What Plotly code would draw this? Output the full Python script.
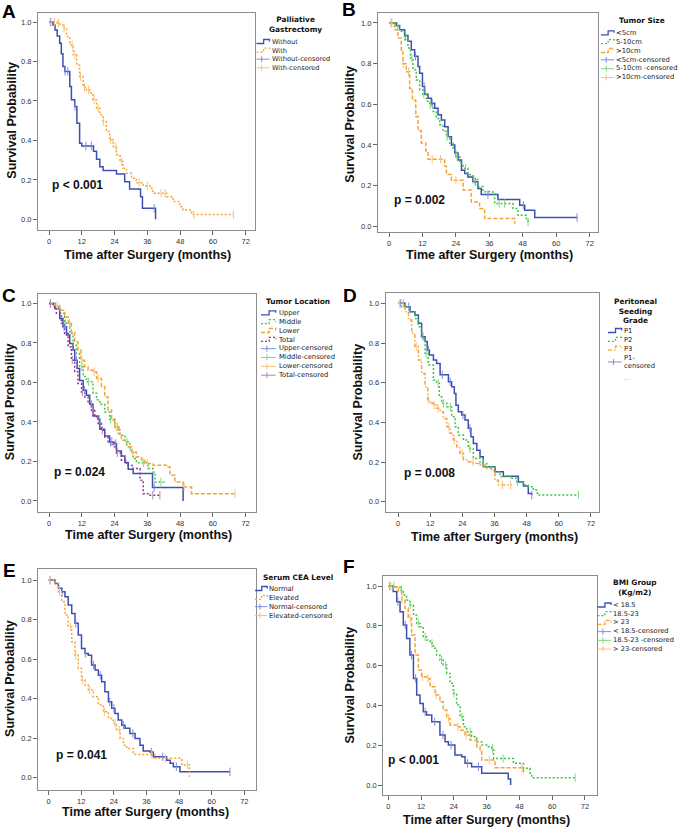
import numpy as np
import plotly.graph_objects as go

# ---------------- data ----------------
time_ticks = [0, 12, 24, 36, 48, 60, 72]
surv_ticks = [0.0, 0.2, 0.4, 0.6, 0.8, 1.0]

# Panel A: Palliative Gastrectomy
A_without_t = [0, 1.5, 2.2, 3, 3.9, 4.5, 5.1, 5.8, 7.6, 8.2, 9.4, 10.2, 11.2, 12, 16.3, 17.4, 18.6, 19.8, 24.7, 27.7, 29.5, 33.5, 34.2, 39]
A_without_s = [1.0, 0.985, 0.96, 0.93, 0.893, 0.84, 0.775, 0.75, 0.673, 0.606, 0.572, 0.487, 0.386, 0.372, 0.345, 0.305, 0.267, 0.247, 0.23, 0.19, 0.154, 0.115, 0.056, 0.0]
A_without_c = [0.5, 5.9, 6.9, 9.5, 13.5, 15.5, 38.5]
A_with_t = [0, 3, 3.9, 5.1, 6.4, 7.6, 8.9, 10.1, 11.2, 12.5, 13.7, 14.9, 16.1, 17.4, 18.6, 19.8, 21, 22.2, 23.5, 24.7, 26, 27.1, 28.3, 30.2, 32, 34.5, 37.5, 38, 43, 45.4, 47.9, 49, 52.2, 67.5]
A_with_s = [1.0, 0.995, 0.99, 0.97, 0.927, 0.885, 0.834, 0.783, 0.724, 0.67, 0.656, 0.64, 0.606, 0.563, 0.53, 0.496, 0.445, 0.403, 0.369, 0.327, 0.293, 0.259, 0.234, 0.208, 0.186, 0.169, 0.157, 0.132, 0.115, 0.09, 0.064, 0.047, 0.025, 0.025]
A_with_c = [0.8, 2.0, 3.5, 5.5, 8.5, 9.5, 11.5, 13.0, 14.5, 16.5, 18.0, 20.0, 22.5, 24.5, 26.5, 33.0, 36.0, 41.0, 42.5, 53.0, 67.5]

# Panel B: Tumor Size
B_lt5_t = [0, 2.6, 3.8, 5.6, 6.8, 8, 9.2, 10.4, 11, 12, 12.8, 14, 15.2, 16.4, 17.6, 18.8, 20, 21.2, 22.4, 23.6, 24.8, 26, 27.2, 28.3, 30.1, 31.9, 33.1, 39.1, 46.9, 48.7, 52.3, 67.5]
B_lt5_s = [1.0, 0.987, 0.967, 0.938, 0.91, 0.868, 0.836, 0.786, 0.753, 0.688, 0.65, 0.63, 0.605, 0.58, 0.548, 0.523, 0.49, 0.44, 0.40, 0.36, 0.326, 0.276, 0.26, 0.243, 0.219, 0.186, 0.156, 0.132, 0.104, 0.079, 0.043, 0.043]
B_lt5_c = [0.8, 5.9, 9.5, 12.6, 15.5, 23.9, 31.0, 35.5, 48.2, 67.5]
B_mid_t = [0, 2, 3.8, 5.6, 6.8, 7.7, 8.6, 9.8, 11, 12.2, 13.4, 14.6, 15.8, 17, 18.2, 19.4, 20.6, 21.8, 23, 24.2, 25.4, 26.6, 28.3, 30.1, 31.9, 33.7, 37.3, 37.9, 44.5, 46.3, 49.3, 49.9]
B_mid_s = [1.0, 0.984, 0.959, 0.918, 0.877, 0.827, 0.77, 0.72, 0.67, 0.648, 0.615, 0.597, 0.565, 0.53, 0.5, 0.467, 0.44, 0.408, 0.375, 0.342, 0.31, 0.286, 0.253, 0.23, 0.196, 0.17, 0.16, 0.112, 0.087, 0.054, 0.038, 0.021]
B_mid_c = [1.0, 3.0, 8.2, 12.5, 14.8, 20.8, 24.4, 27.5, 30.5, 39.5, 41.5, 49.9]
B_gt10_t = [0, 2, 3.2, 4.4, 5, 6.2, 7.4, 8.4, 9.6, 10.4, 11.6, 13.2, 14, 20, 20.6, 22.4, 26.6, 29.5, 32.5, 34.3, 45.1]
B_gt10_s = [1.0, 0.967, 0.926, 0.86, 0.8, 0.76, 0.678, 0.62, 0.54, 0.47, 0.41, 0.37, 0.33, 0.296, 0.255, 0.226, 0.178, 0.12, 0.087, 0.038, 0.013]
B_gt10_c = [0.8, 5.1, 7.0, 15.5, 18.5, 24.0]

# Panel C: Tumor Location
C_up_t = [0, 2.1, 3.9, 5.1, 6.4, 7.6, 8.8, 9.4, 10.3, 11.2, 12.5, 13.7, 14.9, 16.1, 18, 18.6, 20.4, 22.2, 24.1, 24.7, 26.5, 27.8, 29, 30.8, 37.9, 49.1]
C_up_s = [1.0, 0.975, 0.924, 0.882, 0.84, 0.797, 0.764, 0.713, 0.671, 0.61, 0.56, 0.535, 0.49, 0.43, 0.414, 0.363, 0.329, 0.297, 0.29, 0.253, 0.228, 0.195, 0.16, 0.139, 0.068, 0.0]
C_up_c = [0.5, 5.5, 10.0, 13.0, 15.5, 18.3, 22.5, 24.4, 38.5]
C_mid_t = [0, 2.1, 3.9, 5.7, 7.6, 8.8, 10, 11.2, 12.5, 13.7, 16.1, 17.4, 18.6, 20.4, 22.2, 24.1, 25.9, 27.8, 29.6, 30.8, 32, 36.3, 38.1, 38.8, 42.4]
C_mid_s = [1.0, 0.983, 0.95, 0.9, 0.848, 0.789, 0.747, 0.68, 0.63, 0.603, 0.546, 0.512, 0.49, 0.45, 0.414, 0.375, 0.333, 0.3, 0.257, 0.215, 0.193, 0.164, 0.147, 0.096, 0.096]
C_mid_c = [6.0, 12.0, 14.5, 22.5, 25.0, 28.5, 34.5, 41.0]
C_low_t = [0, 2.1, 3.9, 5.7, 7, 8.2, 9.4, 10.6, 11.7, 13, 14.3, 16.1, 17.4, 19.2, 20.4, 21.6, 22.9, 24.1, 25.3, 26.5, 28.4, 30.2, 32, 33.9, 35.1, 38.1, 43, 44.3, 46.1, 49.1, 52.2, 68.1]
C_low_s = [1.0, 0.99, 0.966, 0.932, 0.9, 0.856, 0.806, 0.764, 0.713, 0.68, 0.662, 0.654, 0.62, 0.578, 0.527, 0.46, 0.409, 0.375, 0.341, 0.307, 0.274, 0.248, 0.223, 0.206, 0.19, 0.181, 0.172, 0.13, 0.096, 0.07, 0.037, 0.037]
C_low_c = [3.0, 7.5, 12.0, 16.5, 18.0, 24.5, 30.5, 36.0, 49.5, 68.1]
C_tot_t = [0, 1.5, 2.7, 4.5, 5.7, 7, 8.2, 9.4, 10.6, 11.9, 13.1, 14.3, 15.5, 16.7, 18, 19.2, 20.4, 21.6, 23.5, 24.7, 26.5, 28.4, 30.8, 33.3, 34.5, 36.3, 40.6]
C_tot_s = [1.0, 0.983, 0.95, 0.9, 0.848, 0.78, 0.713, 0.654, 0.595, 0.552, 0.527, 0.493, 0.459, 0.426, 0.392, 0.358, 0.324, 0.3, 0.274, 0.243, 0.206, 0.18, 0.164, 0.105, 0.037, 0.029, 0.029]
C_tot_c = [0.5, 8.5, 12.2, 16.0, 19.5, 23.0, 25.0, 38.0, 40.6]

# Panel D: Peritoneal Seeding Grade
D_p1_t = [0, 2.6, 4.5, 6.3, 7.6, 8.8, 10.1, 10.9, 11.7, 13.2, 14.4, 15.7, 18.8, 20, 21, 21.6, 22.5, 23.8, 25, 26.2, 27.2, 28.1, 29.4, 30.6, 31.8, 36.2, 39.3, 44.9, 46.8, 48.6, 49.9]
D_p1_s = [1.0, 0.983, 0.958, 0.941, 0.9, 0.832, 0.807, 0.765, 0.74, 0.714, 0.697, 0.64, 0.605, 0.58, 0.546, 0.487, 0.454, 0.437, 0.412, 0.37, 0.328, 0.294, 0.26, 0.227, 0.176, 0.151, 0.129, 0.1, 0.079, 0.042, 0.034]
D_p1_c = [1.0, 4.0, 9.3, 11.3, 16.5, 19.5, 24.2, 26.8, 49.9]
D_p2_t = [0, 2.6, 4.5, 6.3, 7.6, 8.8, 10.1, 11.3, 13.2, 14.4, 15.4, 16.3, 18.2, 20, 21.3, 22.5, 24.4, 26.2, 28.1, 30.6, 33.1, 36.2, 38.1, 42.4, 44.3, 46.8, 48.6, 50.5, 52, 67.3]
D_p2_s = [1.0, 0.983, 0.958, 0.924, 0.882, 0.824, 0.748, 0.689, 0.613, 0.597, 0.529, 0.496, 0.479, 0.429, 0.378, 0.336, 0.311, 0.269, 0.218, 0.193, 0.176, 0.151, 0.126, 0.118, 0.1, 0.084, 0.076, 0.059, 0.034, 0.034]
D_p2_c = [2.0, 10.5, 15.0, 17.0, 19.5, 26.8, 32.0, 44.5, 67.3]
D_p3_t = [0, 1.4, 2.6, 3.9, 5.1, 6.3, 7.6, 8.8, 10.1, 11.1, 11.9, 13.2, 14.4, 15.7, 16.9, 18.2, 19.4, 20.6, 21.9, 23.1, 24.4, 26.2, 28.1, 30.6, 32.5, 34.9, 36.2, 37.4, 42.4]
D_p3_s = [1.0, 0.983, 0.958, 0.916, 0.849, 0.782, 0.714, 0.647, 0.58, 0.513, 0.496, 0.487, 0.471, 0.454, 0.42, 0.378, 0.345, 0.311, 0.277, 0.244, 0.21, 0.202, 0.193, 0.185, 0.168, 0.156, 0.109, 0.084, 0.084]
D_p3_c = [0.5, 7.0, 11.5, 13.5, 15.0, 19.0, 21.0, 24.0, 28.0, 39.0, 42.0]

# Panel E: Serum CEA Level
E_norm_t = [0, 2.3, 3.6, 4.8, 6, 7.2, 8.5, 9.7, 10.9, 12.1, 13.4, 14.6, 15.8, 17.1, 18.3, 19.5, 20.7, 22, 23.2, 24.4, 25.6, 26.9, 28.1, 29.9, 31.8, 33.6, 34.8, 37.3, 38.5, 43.4, 44.7, 45.9, 48.3, 66.7]
E_norm_s = [1.0, 0.983, 0.958, 0.941, 0.916, 0.874, 0.831, 0.781, 0.722, 0.654, 0.629, 0.62, 0.57, 0.545, 0.519, 0.486, 0.435, 0.384, 0.351, 0.325, 0.292, 0.266, 0.25, 0.224, 0.199, 0.165, 0.135, 0.13, 0.106, 0.089, 0.073, 0.056, 0.03, 0.03]
E_norm_c = [0.5, 5.0, 10.0, 13.5, 16.5, 19.0, 22.5, 24.0, 27.5, 31.0, 37.8, 42.0, 47.0, 66.7]
E_elev_t = [0, 2.3, 3.6, 4.8, 6, 7.2, 8.5, 9.7, 10.9, 12.1, 13.4, 14.6, 16.4, 18.3, 20.1, 22, 23.8, 25, 26.3, 27.5, 28.7, 31.2, 39.1, 49, 51.8]
E_elev_s = [1.0, 0.983, 0.941, 0.89, 0.823, 0.764, 0.688, 0.62, 0.553, 0.494, 0.469, 0.444, 0.41, 0.368, 0.334, 0.3, 0.275, 0.241, 0.199, 0.165, 0.148, 0.118, 0.098, 0.064, 0.005]
E_elev_c = [0.5, 4.0, 8.0, 10.0, 12.5, 15.0, 20.5, 24.5, 26.0, 38.0, 43.0, 51.0]

# Panel F: BMI Group
F_lo_t = [0, 1.8, 3.1, 4.3, 5.5, 6.7, 7.9, 9.2, 10.4, 11.6, 12.8, 14, 15.9, 18.9, 20.8, 22, 24.4, 26.9, 28.1, 30.5, 34.2, 43.9, 44.8]
F_lo_s = [1.0, 0.972, 0.921, 0.871, 0.804, 0.737, 0.653, 0.536, 0.452, 0.41, 0.368, 0.352, 0.318, 0.251, 0.218, 0.201, 0.151, 0.142, 0.109, 0.092, 0.059, 0.03, 0.0]
F_lo_c = [0.5, 3.5, 6.2, 8.5, 10.0, 13.5, 17.0, 20.0, 23.0, 29.0, 33.0]
F_mid_t = [0, 2.4, 4.3, 5.5, 6.7, 7.9, 9.2, 10.4, 11.6, 12.8, 14, 15.3, 16.5, 17.7, 18.9, 20.1, 21.4, 22.6, 23.8, 25, 26.3, 27.5, 28.7, 30.5, 32.4, 34.2, 36, 37.9, 38.5, 45.8, 49.5, 51.9, 52.5, 68.4]
F_mid_s = [1.0, 0.995, 0.98, 0.955, 0.93, 0.905, 0.854, 0.812, 0.796, 0.745, 0.729, 0.712, 0.687, 0.653, 0.628, 0.603, 0.561, 0.511, 0.461, 0.402, 0.343, 0.293, 0.268, 0.243, 0.218, 0.201, 0.193, 0.184, 0.134, 0.109, 0.084, 0.059, 0.037, 0.037]
F_mid_c = [0.5, 2.0, 4.8, 8.0, 11.0, 13.5, 16.0, 19.5, 21.0, 24.0, 27.0, 30.0, 38.2, 42.0, 68.4]
F_hi_t = [0, 1.8, 3.7, 4.9, 6.1, 7.3, 8.5, 9.8, 11, 12.2, 14, 15.3, 17.1, 18.9, 20.1, 21.4, 22.6, 25, 26.3, 28.1, 29.9, 32.4, 33.6, 34.2, 39.1, 49.5]
F_hi_s = [1.0, 0.997, 0.972, 0.93, 0.888, 0.838, 0.754, 0.653, 0.578, 0.544, 0.536, 0.494, 0.452, 0.419, 0.377, 0.335, 0.302, 0.293, 0.276, 0.251, 0.226, 0.193, 0.168, 0.126, 0.087, 0.05]
F_hi_c = [1.0, 5.0, 8.0, 12.5, 14.5, 17.5, 22.0, 25.5, 28.5, 37.0, 49.0]

p_values = ["p &lt; 0.001", "p = 0.002", "p = 0.024", "p = 0.008", "p = 0.041", "p &lt; 0.001"]

legend_titles = [["Palliative", "Gastrectomy"], ["Tumor Size"], ["Tumor Location"],
                 ["Peritoneal", "Seeding", "Grade"], ["Serum CEA Level"], ["BMI Group", "(Kg/m2)"]]
legend_labels = [
    ["Without", "With", "Without-censored", "With-censored"],
    ["&lt;5cm", "5-10cm", "&gt;10cm", "&lt;5cm-censored", "5-10cm -censored", "&gt;10cm-censored"],
    ["Upper", "Middle", "Lower", "Total", "Upper-censored", "Middle-censored", "Lower-censored", "Total-censored"],
    ["P1", "P2", "P3", "P1-", "censored"],
    ["Normal", "Elevated", "Normal-censored", "Elevated-censored"],
    ["&lt; 18.5", "18.5-23", "&gt; 23", "&lt; 18.5-censored", "18.5-23 -censored", "&gt; 23-censored"],
]

# ---------------- styling / layout helpers ----------------
W, H = 685, 829
def fx(p): return p / W
def fy(p): return 1 - p / H

BLUE = '#3d4fb5'
ORANGE = '#f6a234'
GREEN = '#3ec43e'
PURPLE = '#8b3a8b'
LIGHT = {BLUE: '#7e8ed8', ORANGE: '#f8c27c', GREEN: '#80d880', PURPLE: '#b683b6'}
SOLID, DOT, DASH, DASHDOT = 'solid', '2px,2px', '4px,2px', '4px,2px,1.5px,2px'
FONT = 'Liberation Sans, Arial, sans-serif'
LFONT = 'DejaVu Sans, Verdana, sans-serif'
TITLE_FS = 7.4
LS = 1.3  # plotly line spacing

panels = [
    dict(letter='A', box=(38, 13, 255, 230), xr=(-4.03, 75.4), yr=(-0.054, 1.046),
         curves=[(A_without_t, A_without_s, A_without_c, BLUE, SOLID),
                 (A_with_t, A_with_s, A_with_c, ORANGE, DOT)],
         letter_pos=(8.5, 11.5), p_pos=(51, 185), xt=(147, 255), yt=12,
         leg=dict(tx=295, ty=19.3, xs=256.5, xt=270.5, y1=42.0, fs=6.6)),
    dict(letter='B', box=(378, 13, 598, 232), xr=(-3.95, 75.0), yr=(-0.028, 1.049),
         curves=[(B_lt5_t, B_lt5_s, B_lt5_c, BLUE, SOLID),
                 (B_mid_t, B_mid_s, B_mid_c, GREEN, DOT),
                 (B_gt10_t, B_gt10_s, B_gt10_c, ORANGE, DASH)],
         letter_pos=(348.5, 9.7), p_pos=(393, 200), xt=(489, 255), yt=350,
         leg=dict(tx=641.7, ty=20.7, xs=601, xt=615, y1=33.3, fs=6.8)),
    dict(letter='C', box=(38, 294, 256, 512), xr=(-4.04, 75.8), yr=(-0.056, 1.048),
         curves=[(C_up_t, C_up_s, C_up_c, BLUE, SOLID),
                 (C_mid_t, C_mid_s, C_mid_c, GREEN, DOT),
                 (C_low_t, C_low_s, C_low_c, ORANGE, DASH),
                 (C_tot_t, C_tot_s, C_tot_c, PURPLE, DOT)],
         letter_pos=(8.5, 295), p_pos=(53, 471.7), xt=(148, 535), yt=10,
         leg=dict(tx=298, ty=301.7, xs=261, xt=276.7, y1=313.3, fs=6.8)),
    dict(letter='D', box=(385.7, 293, 599.3, 511.7), xr=(-4.6, 75.1), yr=(-0.05, 1.052),
         curves=[(D_p1_t, D_p1_s, D_p1_c, BLUE, SOLID),
                 (D_p2_t, D_p2_s, D_p2_c, GREEN, DOT),
                 (D_p3_t, D_p3_s, D_p3_c, ORANGE, DASHDOT)],
         letter_pos=(350, 295), p_pos=(403, 473.3), xt=(494, 536.7), yt=358,
         leg=dict(tx=635, ty=301.7, xs=608, xt=622.7, y1=331.0, fs=6.8)),
    dict(letter='E', box=(38.3, 569, 256, 790), xr=(-3.8, 76.3), yr=(-0.062, 1.056),
         curves=[(E_norm_t, E_norm_s, E_norm_c, BLUE, SOLID),
                 (E_elev_t, E_elev_s, E_elev_c, ORANGE, DOT)],
         letter_pos=(9.2, 570), p_pos=(55, 755), xt=(145.5, 812.3), yt=10,
         leg=dict(tx=297.7, ty=577.3, xs=255, xt=268.3, y1=589.0, fs=6.8)),
    dict(letter='F', box=(383.3, 575.7, 596.7, 795), xr=(-1.83, 76.3), yr=(-0.05, 1.052),
         curves=[(F_lo_t, F_lo_s, F_lo_c, BLUE, SOLID),
                 (F_mid_t, F_mid_s, F_mid_c, GREEN, DOT),
                 (F_hi_t, F_hi_s, F_hi_c, ORANGE, DASH)],
         letter_pos=(349, 566.7), p_pos=(387, 760), xt=(486.7, 819.5), yt=350,
         leg=dict(tx=635, ty=582.8, xs=597.5, xt=612, y1=605.5, fs=6.7)),
]

fig = go.Figure()
annotations, shapes = [], []
layout_axes = {}

def ann(text, x, y, size, family=FONT, color='#111', xanchor='center', **kw):
    d = dict(text=text, x=fx(x), y=fy(y), xref='paper', yref='paper', xanchor=xanchor,
             yanchor='middle', showarrow=False, borderpad=0, font=dict(size=size, family=family, color=color))
    d.update(kw)
    annotations.append(d)

for i, P in enumerate(panels):
    n = '' if i == 0 else str(i + 1)
    xa, ya = 'x' + n, 'y' + n
    l, t, r, b = P['box']
    common = dict(showline=True, mirror=True, linecolor='#8c8c8c', linewidth=1,
                  ticks='outside', ticklen=4, tickwidth=1, tickcolor='#666',
                  tickfont=dict(size=7.5, family=FONT, color='#333'),
                  showgrid=False, zeroline=False, fixedrange=True)
    layout_axes['xaxis' + n] = dict(common, domain=[fx(l), fx(r)], range=list(P['xr']),
                                    tickvals=time_ticks, anchor=ya)
    layout_axes['yaxis' + n] = dict(common, domain=[fy(b), fy(t)], range=list(P['yr']),
                                    tickvals=surv_ticks, tickformat='.1f', anchor=xa)
    for (tt, ss, cc, col, dash) in P['curves']:
        fig.add_trace(go.Scatter(x=tt, y=ss, mode='lines', xaxis=xa, yaxis=ya,
                                 line=dict(shape='hv', color=col, width=1.5, dash=dash),
                                 showlegend=False, hoverinfo='skip'))
    for (tt, ss, cc, col, dash) in P['curves']:
        idx = np.searchsorted(np.array(tt), np.array(cc), side='right') - 1
        cy = [ss[k] for k in idx]
        fig.add_trace(go.Scatter(x=cc, y=cy, mode='markers', xaxis=xa, yaxis=ya,
                                 marker=dict(symbol='line-ns', size=6,
                                             line=dict(width=1, color=LIGHT[col])),
                                 showlegend=False, hoverinfo='skip'))
    ann('<b>%s</b>' % P['letter'], *P['letter_pos'], 19, color='#000')
    ann('<b>%s</b>' % p_values[i], *P['p_pos'], 12, xanchor='left')
    ann('<b>Time after Surgery (months)</b>', *P['xt'], 12.5)
    y0px = t + (b - t) * (P['yr'][1] - 0.5) / (P['yr'][1] - P['yr'][0])
    ann('<b>Survival Probability</b>', P['yt'], y0px, 12.5, textangle=-90)

    # legend (drawn by hand, SPSS style)
    L = P['leg']
    titles = legend_titles[i]
    tstep = TITLE_FS * LS
    tcenter = L['ty'] + (len(titles) - 1) * tstep / 2
    ann('<b>%s</b>' % '<br>'.join(titles), L['tx'], tcenter, TITLE_FS, family=LFONT)
    labels = legend_labels[i]
    step = L['fs'] * LS
    ycen = L['y1'] + (len(labels) - 1) * step / 2
    ann('<br>'.join(labels), L['xt'], ycen, L['fs'], family=LFONT, color='#222', xanchor='left', align='left')
    ncur = len(P['curves'])
    nitems = 2 * ncur if P['letter'] != 'D' else ncur + 1
    x0, x1 = L['xs'], L['xt'] - 1
    for k in range(nitems):
        yy = L['y1'] + k * step
        if k < ncur:
            col, dash = P['curves'][k][3], P['curves'][k][4]
            xm = x0 + (x1 - x0) * 0.55
            path = 'M %f,%f L %f,%f L %f,%f L %f,%f L %f,%f' % (
                fx(x0), fy(yy + 1.5), fx(xm), fy(yy + 1.5), fx(xm), fy(yy - 2.5), fx(x1), fy(yy - 2.5),
                fx(x1), fy(yy - 0.5))
            shapes.append(dict(type='path', path=path, xref='paper', yref='paper',
                               line=dict(color=col, width=1.3, dash=dash)))
        else:
            col = LIGHT[P['curves'][k - ncur][3]]
            ly = yy if P['letter'] != 'D' else yy + step / 2
            shapes.append(dict(type='line', x0=fx(x0), x1=fx(x1), y0=fy(ly), y1=fy(ly), xref='paper',
                               yref='paper', line=dict(color=col, width=1)))
            xm = x0 + (x1 - x0) * 0.4
            shapes.append(dict(type='line', x0=fx(xm), x1=fx(xm), y0=fy(ly - 3), y1=fy(ly + 3), xref='paper',
                               yref='paper', line=dict(color=col, width=1)))
    if P['letter'] == 'D':
        ann('...', L['xt'], 377.5, 6.5, family=LFONT, color='#aaa', xanchor='left')

fig.update_layout(width=W, height=H, margin=dict(l=0, r=0, t=0, b=0),
                  paper_bgcolor='white', plot_bgcolor='white', showlegend=False,
                  annotations=annotations, shapes=shapes, **layout_axes)
fig.write_html('out.html', config={'displayModeBar': False, 'staticPlot': True},
               post_script="document.body.style.margin='0px';document.body.style.padding='0px';")
